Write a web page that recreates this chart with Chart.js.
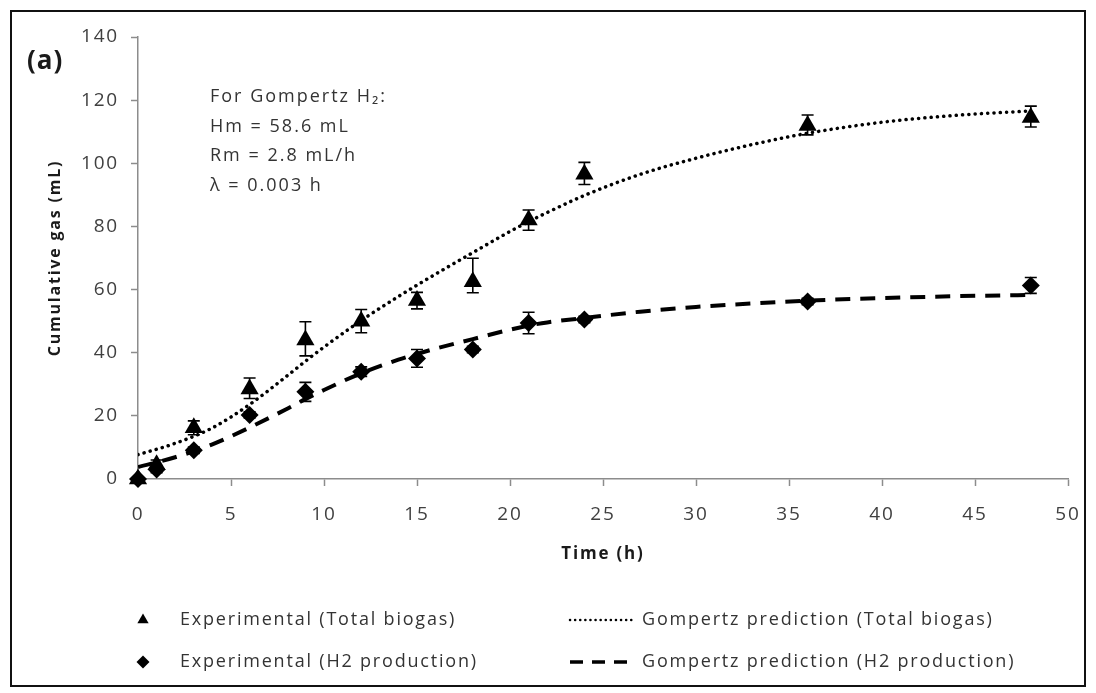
<!DOCTYPE html>
<html>
<head>
<meta charset="utf-8">
<script src="https://cdn.jsdelivr.net/npm/chart.js@4.4.1/dist/chart.umd.min.js"></script>
<style>
  html, body { margin: 0; padding: 0; background: #fff; }
  #wrap { width: 1096px; height: 693px; }
</style>
</head>
<body>
<div id="wrap"><canvas id="gas" width="1096" height="693"></canvas></div>
<script>
// experimental samples (h)
const hours = [0, 1, 3, 6, 9, 12, 15, 18, 21, 24, 36, 48];
const biogas = [0, 4.5, 16.2, 28.5, 44, 50, 56.5, 62.5, 82, 96.5, 112, 114.5];
const biogasErrUp = [0, 1.5, 2.2, 3.5, 5.8, 3.7, 2.6, 7.4, 3.2, 3.8, 3.3, 3.6];
const biogasErrDown = [0, 1.5, 2.2, 3, 5, 3.7, 2.6, 3.5, 3.2, 3.2, 3, 3];
const h2 = [0, 3, 9.1, 20.3, 27.6, 34, 38.2, 41, 49.4, 50.5, 56.2, 61.3];
const h2Err = [0, 1, 1, 1, 3, 1.5, 2.8, 1, 3.4, 1, 1, 2.5];

// fitted curves
const fitHours = [0, 2, 4, 6, 8, 9, 10, 12, 14, 15, 16, 18, 20, 21, 22, 24, 27, 30, 33, 36, 40, 44, 48];
const fitBiogas = [7.7, 11.3, 16.2, 23.6, 32.6, 37.3, 41.8, 50.2, 57.8, 61.4, 64.9, 71.7, 78.4, 81.5, 84.4, 89.8, 96.5, 101.6, 105.9, 109.5, 113, 115.2, 116.6];
const fitH2 = [3.8, 6.9, 11, 16.3, 22.2, 25.3, 28.2, 33.5, 37.8, 39.6, 41.3, 44.3, 47.3, 48.6, 49.6, 51, 53, 54.5, 55.6, 56.5, 57.3, 57.9, 58.3];

const xTicks = [0, 5, 10, 15, 20, 25, 30, 35, 40, 45, 50];
const yTicks = [0, 20, 40, 60, 80, 100, 120, 140];

const legendItems = [
  { label: 'Experimental (Total biogas)', kind: 'triangle', col: 0, row: 0 },
  { label: 'Gompertz prediction (Total biogas)', kind: 'dotted', col: 1, row: 0 },
  { label: 'Experimental (H2 production)', kind: 'rectRot', col: 0, row: 1 },
  { label: 'Gompertz prediction (H2 production)', kind: 'dashed', col: 1, row: 1 }
];

const noteLines = ['For Gompertz H\u2082:', 'Hm = 58.6 mL', 'Rm = 2.8 mL/h', '\u03bb = 0.003 h'];

const FONT = "'Open Sans', 'Liberation Sans', sans-serif";
const AXIS = '#8c8c8c';
const TEXT = '#404040';

const pts = (xs, ys) => xs.map((x, i) => ({ x, y: ys[i] }));

// the source figure is a stretched Excel export, so text runs wide
const spacing = {
  id: 'spacing',
  beforeDraw(chart) { chart.ctx.letterSpacing = '1.8px'; },
  afterDraw(chart) { chart.ctx.letterSpacing = '0px'; }
};

const errorBars = {
  id: 'errorBars',
  afterDatasetsDraw(chart) {
    const { ctx, scales: { x, y } } = chart;
    ctx.save();
    ctx.strokeStyle = '#000';
    ctx.lineWidth = 1.6;
    chart.data.datasets.forEach(ds => {
      if (!ds.errUp) return;
      ds.data.forEach((p, i) => {
        const up = ds.errUp[i], down = ds.errDown[i];
        if (!up && !down) return;
        const px = x.getPixelForValue(p.x);
        const top = y.getPixelForValue(p.y + up);
        const bot = y.getPixelForValue(p.y - down);
        ctx.beginPath();
        ctx.moveTo(px, top); ctx.lineTo(px, bot);
        ctx.moveTo(px - 6, top); ctx.lineTo(px + 6, top);
        ctx.moveTo(px - 6, bot); ctx.lineTo(px + 6, bot);
        ctx.stroke();
      });
    });
    ctx.restore();
  }
};

const extras = {
  id: 'extras',
  afterDraw(chart) {
    const ctx = chart.ctx;
    ctx.save();
    // frame
    ctx.strokeStyle = '#111';
    ctx.lineWidth = 2;
    ctx.strokeRect(11, 11, 1074, 675);

    // panel tag
    ctx.fillStyle = '#1a1a1a';
    ctx.font = `bold 26px ${FONT}`;
    ctx.letterSpacing = '1px';
    ctx.textBaseline = 'middle';
    ctx.textAlign = 'left';
    ctx.fillText('(a)', 27, 62);

    // parameter note
    ctx.fillStyle = '#333';
    ctx.font = `18px ${FONT}`;
    ctx.letterSpacing = '2px';
    noteLines.forEach((t, i) => ctx.fillText(t, 210, 97 + i * 29.5));

    // legend
    const colX = [143, 568];
    const rowY = [620, 662];
    ctx.font = `18px ${FONT}`;
    ctx.letterSpacing = '1.8px';
    legendItems.forEach(it => {
      const x0 = colX[it.col], y0 = rowY[it.row];
      ctx.fillStyle = '#000';
      ctx.strokeStyle = '#000';
      if (it.kind === 'triangle' || it.kind === 'rectRot') {
        Chart.helpers.drawPoint(ctx, { pointStyle: it.kind, radius: 6.5, borderWidth: 0 }, x0, y0);
        ctx.fillStyle = '#333';
        ctx.fillText(it.label, 180, y0);
      } else {
        ctx.lineWidth = it.kind === 'dotted' ? 2.5 : 3.5;
        ctx.lineCap = it.kind === 'dotted' ? 'round' : 'butt';
        ctx.setLineDash(it.kind === 'dotted' ? [0.1, 5] : [13, 9]);
        ctx.beginPath();
        ctx.moveTo(x0 + 2, y0); ctx.lineTo(x0 + 66, y0);
        ctx.stroke();
        ctx.setLineDash([]);
        ctx.fillStyle = '#333';
        ctx.fillText(it.label, 642, y0);
      }
    });
    ctx.restore();
  }
};

new Chart(document.getElementById('gas'), {
  type: 'scatter',
  data: {
    datasets: [
      {
        label: 'Experimental (Total biogas)',
        data: pts(hours, biogas),
        errUp: biogasErrUp,
        errDown: biogasErrDown,
        pointStyle: 'triangle',
        pointRadius: 10.5,
        backgroundColor: '#000',
        borderColor: '#000',
        borderWidth: 0,
        clip: false,
        order: 1
      },
      {
        label: 'Experimental (H2 production)',
        data: pts(hours, h2),
        errUp: h2Err,
        errDown: h2Err,
        pointStyle: 'rectRot',
        pointRadius: 9,
        backgroundColor: '#000',
        borderColor: '#000',
        borderWidth: 0,
        clip: false,
        order: 1
      },
      {
        type: 'line',
        label: 'Gompertz prediction (Total biogas)',
        data: pts(fitHours, fitBiogas),
        borderColor: '#000',
        borderWidth: 3.5,
        borderDash: [0.1, 6.2],
        borderCapStyle: 'round',
        pointRadius: 0,
        cubicInterpolationMode: 'monotone',
        fill: false,
        order: 2
      },
      {
        type: 'line',
        label: 'Gompertz prediction (H2 production)',
        data: pts(fitHours, fitH2),
        borderColor: '#000',
        borderWidth: 4,
        borderDash: [15, 10],
        pointRadius: 0,
        cubicInterpolationMode: 'monotone',
        fill: false,
        order: 2
      }
    ]
  },
  options: {
    responsive: false,
    animation: false,
    devicePixelRatio: 1,
    layout: { padding: { top: 37, right: 28, bottom: 114, left: 0 } },
    plugins: { legend: { display: false }, tooltip: { enabled: false } },
    scales: {
      x: {
        type: 'linear',
        min: xTicks[0],
        max: xTicks[xTicks.length - 1],
        afterBuildTicks: s => { s.ticks = xTicks.map(v => ({ value: v })); },
        afterFit: s => { s.height = 100; },
        ticks: { color: TEXT, font: { family: FONT, size: 19 }, padding: 17, maxRotation: 0 },
        grid: { drawOnChartArea: false, drawTicks: true, tickLength: 7, color: AXIS, tickWidth: 1.5 },
        border: { color: AXIS, width: 1.5 },
        title: { display: true, text: 'Time (h)', color: '#1a1a1a', font: { family: FONT, size: 17, weight: 'bold' }, padding: { top: 0, bottom: 15 } }
      },
      y: {
        type: 'linear',
        min: yTicks[0],
        max: yTicks[yTicks.length - 1],
        afterBuildTicks: s => { s.ticks = yTicks.map(v => ({ value: v })); },
        afterFit: s => { s.width = 138; },
        ticks: { color: TEXT, font: { family: FONT, size: 19 }, padding: 12 },
        grid: { drawOnChartArea: false, drawTicks: true, tickLength: 7, color: AXIS, tickWidth: 1.5 },
        border: { color: AXIS, width: 1.5 },
        title: { display: true, text: 'Cumulative gas (mL)', color: '#1a1a1a', font: { family: FONT, size: 16, weight: 'bold' }, padding: { top: 46, bottom: 0 } }
      }
    }
  },
  plugins: [spacing, errorBars, extras]
});
</script>
</body>
</html>
